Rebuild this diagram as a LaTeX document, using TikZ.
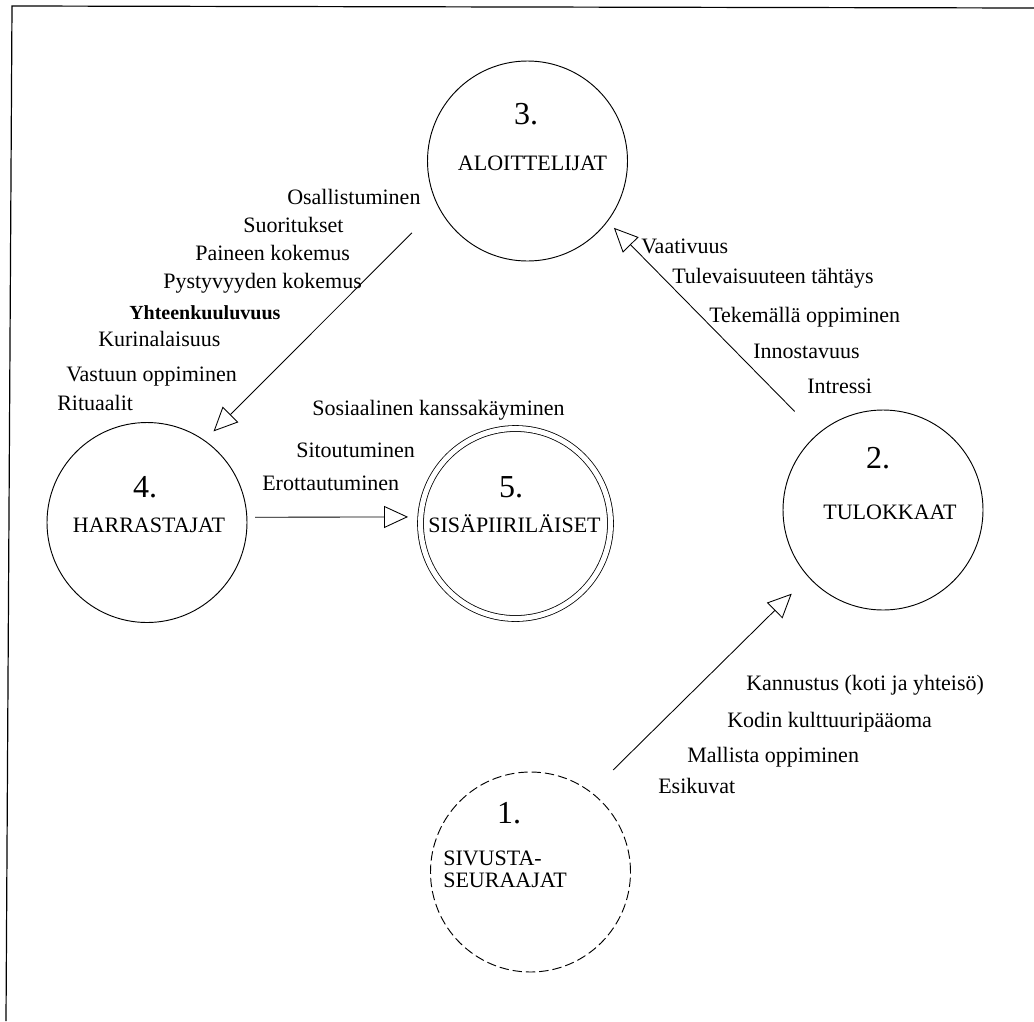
\documentclass[tikz,border=0pt]{standalone}
\usepackage{fontspec}
\setmainfont{Liberation Serif}
\usetikzlibrary{arrows.meta}
\begin{document}
\begin{tikzpicture}[x=0.75pt,y=-0.75pt,
  circ/.style={circle,draw,line width=0.7pt,minimum size=150pt,inner sep=0pt,outer sep=0pt},
  lbl/.style={anchor=base west,inner sep=0pt,font=\fontsize{16.5}{18}\selectfont},
  ctr/.style={anchor=base,inner sep=0pt,font=\fontsize{16.5}{18}\selectfont},
  num/.style={anchor=base,inner sep=0pt,font=\fontsize{24}{26}\selectfont},
  arr/.style={line width=0.65pt,-{Triangle[open,length=18pt,width=16.5pt,line width=0.65pt]}}]
\useasboundingbox (0,0) rectangle (1034,1021);
% frame
\draw[line width=0.9pt] (1034,8) -- (12,6) -- (6,1021);

% circles
\node[circ] (c3) at (527.5,161) {};
\node[circ] (c4) at (147,522.5) {};
\node[circ,double,double distance=3.8pt,line width=0.6pt,minimum size=142.5pt] (c5) at (515.5,523.5) {};
\node[circ] (c2) at (883,510) {};
\node[circ,dash pattern=on 7pt off 3pt] (c1) at (530.5,872) {};

% circle texts
\node[num] (n3) at (526,124) {3.};
\node[ctr] (l3) at (532.5,170) {ALOITTELIJAT};
\node[num] (n4) at (145,497) {4.};
\node[ctr] (l4) at (149,532) {HARRASTAJAT};
\node[num] (n5) at (511,497) {5.};
\node[ctr] (l5) at (514.5,532) {SISÄPIIRILÄISET};
\node[num] (n2) at (878,468) {2.};
\node[ctr] (l2) at (890,519) {TULOKKAAT};
\node[num] (n1) at (509,823) {1.};
\node[lbl] (l1a) at (443,865) {SIVUSTA-};
\node[lbl] (l1b) at (443,887) {SEURAAJAT};

% connectors
\draw[arr, shorten <=28pt, shorten >=9.75pt] (c3.207.1) -- (c4.55.4);
\draw[arr, shorten <=24.3pt, shorten >=7pt] (c2.131.4) -- (c3.-37.9);
\draw[arr, shorten <=23.6pt, shorten >=17.9pt] (c1.53.1) -- (c2.222.2);
\draw[arr, shorten <=6.15pt, shorten >=9.5pt] (c4.3.15) -- (c5.176.1);

% labels 3 -> 4
\node[lbl] (a1) at (287,204) {Osallistuminen};
\node[lbl] (a2) at (243,232) {Suoritukset};
\node[lbl] (a3) at (195,260) {Paineen kokemus};
\node[lbl] (a4) at (163,288) {Pystyvyyden kokemus};
\node[lbl,font=\bfseries\fontsize{15}{17}\selectfont] (a5) at (129,319) {Yhteenkuuluvuus};
\node[lbl] (a6) at (98,346) {Kurinalaisuus};
\node[lbl] (a7) at (66,381) {Vastuun oppiminen};
\node[lbl] (a8) at (57,410) {Rituaalit};

% labels 4 -> 5
\node[lbl] (b1) at (312,415) {Sosiaalinen kanssakäyminen};
\node[lbl] (b2) at (296,457) {Sitoutuminen};
\node[lbl] (b3) at (262,490) {Erottautuminen};

% labels 2 -> 3
\node[lbl] (d1) at (641,253) {Vaativuus};
\node[lbl] (d2) at (672,283) {Tulevaisuuteen tähtäys};
\node[lbl] (d3) at (709,322) {Tekemällä oppiminen};
\node[lbl] (d4) at (753,358) {Innostavuus};
\node[lbl] (d5) at (807,393) {Intressi};

% labels 1 -> 2
\node[lbl] (e1) at (746,690) {Kannustus (koti ja yhteisö)};
\node[lbl] (e2) at (727,727) {Kodin kulttuuripääoma};
\node[lbl] (e3) at (687,762) {Mallista oppiminen};
\node[lbl] (e4) at (658,793) {Esikuvat};
\end{tikzpicture}
\end{document}
